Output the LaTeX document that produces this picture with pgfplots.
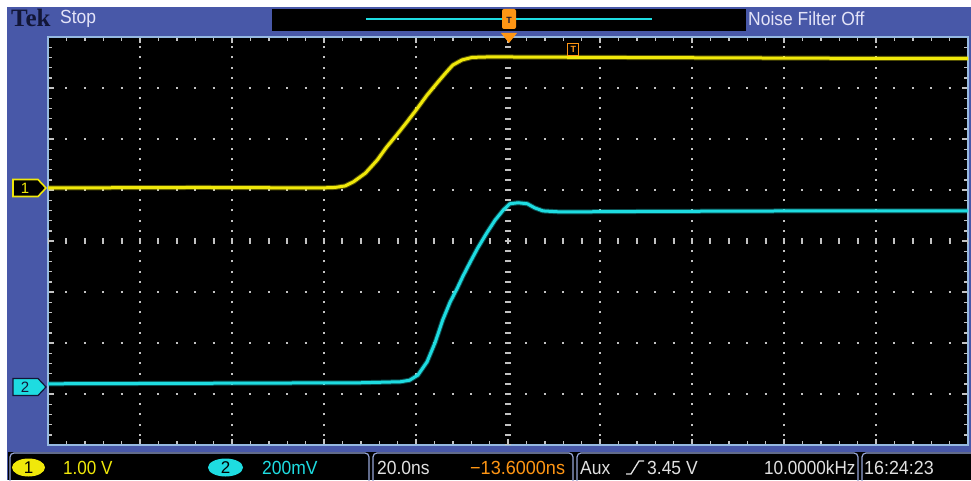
\documentclass[border=0pt]{standalone}
\usepackage{pgfplots}
\pgfplotsset{compat=1.18}
\usepackage{fontspec}
\setmainfont{Liberation Sans}
\newfontfamily\tekfont{Liberation Serif}
\definecolor{tekblue}{RGB}{72,88,168}
\definecolor{tekdark}{RGB}{18,22,55}
\definecolor{stoptxt}{RGB}{228,228,248}
\definecolor{yellowtr}{RGB}{240,232,10}
\definecolor{cyantr}{RGB}{30,220,225}
\definecolor{trigorange}{RGB}{255,150,20}
\definecolor{barline}{RGB}{150,165,215}
\definecolor{bordercol}{RGB}{150,185,225}
\definecolor{gridcol}{RGB}{195,195,195}
\definecolor{txtgray}{RGB}{225,225,225}
\begin{document}
\begin{tikzpicture}[x=1pt,y=1pt]
\useasboundingbox (0,0) rectangle (971,480);
\clip (0,0) rectangle (971,480);
\fill[white] (0,0) rectangle (971,480);
\fill[tekblue] (7,0) rectangle (971,473);
% ---- top bar
\node[anchor=west, inner sep=0, text=tekdark, font=\tekfont\bfseries\fontsize{25}{25}\selectfont] at (11,462) {Tek};
\node[anchor=west, inner sep=0, text=stoptxt, font=\fontsize{19}{19}\selectfont, xscale=0.92] at (60,461) {Stop};
\fill[black] (272,449) rectangle (746,471);
\draw[cyantr, line width=2.5pt] (366,461) -- (652,461);
\fill[trigorange, rounded corners=2pt] (502,451) rectangle (516,471);
\node[inner sep=0, text=tekdark, font=\bfseries\fontsize{9}{9}\selectfont] at (509,460) {T};
\node[anchor=west, inner sep=0, text=stoptxt, font=\fontsize{19}{19}\selectfont, xscale=0.92] at (748,461) {Noise Filter Off};
% ---- bottom bar
\fill[black] (8,0) rectangle (971,28);
\draw[barline, line width=1.2pt, rounded corners=4pt] (10,-3) -- (10,27) -- (369,27) -- (369,-3);
\draw[barline, line width=1.2pt, rounded corners=4pt] (373,-3) -- (373,27) -- (573,27) -- (573,-3);
\draw[barline, line width=1.2pt, rounded corners=4pt] (577,-3) -- (577,27) -- (858,27) -- (858,-3);
\draw[barline, line width=1.2pt, rounded corners=4pt] (862,-3) -- (862,27) -- (975,27);
\fill[yellowtr] (28.5,12.5) ellipse [x radius=16.5, y radius=9];
\node[inner sep=0, text=black, font=\fontsize{17}{17}\selectfont] at (28.5,12) {1};
\node[anchor=west, inner sep=0, text=yellowtr, font=\fontsize{19}{19}\selectfont, xscale=0.9] at (63,12) {1.00 V};
\fill[cyantr] (225.5,12.5) ellipse [x radius=17.5, y radius=9];
\node[inner sep=0, text=black, font=\fontsize{17}{17}\selectfont] at (225.5,12) {2};
\node[anchor=west, inner sep=0, text=cyantr, font=\fontsize{19}{19}\selectfont, xscale=0.92] at (262,12) {200mV};
\node[anchor=west, inner sep=0, text=txtgray, font=\fontsize{19}{19}\selectfont, xscale=0.92] at (377,12) {20.0ns};
\node[anchor=west, inner sep=0, text=trigorange, font=\fontsize{19}{19}\selectfont, xscale=0.95] at (470,12) {−13.6000ns};
\node[anchor=west, inner sep=0, text=txtgray, font=\fontsize{19}{19}\selectfont, xscale=0.92] at (580,12) {Aux};
\draw[txtgray, line width=1.3pt] (626,6) -- (631,6) -- (639,19) -- (644,19);
\node[anchor=west, inner sep=0, text=txtgray, font=\fontsize{19}{19}\selectfont, xscale=0.92] at (647,12) {3.45 V};
\node[anchor=west, inner sep=0, text=txtgray, font=\fontsize{19}{19}\selectfont, xscale=0.9] at (764,12) {10.0000kHz};
\node[anchor=west, inner sep=0, text=txtgray, font=\fontsize{19}{19}\selectfont, xscale=0.94] at (864,12) {16:24:23};
% ---- scope screen
\begin{axis}[
  at={(48pt,35pt)}, anchor=south west,
  scale only axis, width=920pt, height=408pt,
  xmin=-5, xmax=5, ymin=-4, ymax=4,
  axis background/.style={fill=black},
  axis line style={draw=bordercol, line width=1.6pt},
  xtick={-5,...,5}, ytick={-4,...,4},
  xticklabels={}, yticklabels={},
  minor x tick num=4, minor y tick num=4,
  tick align=inside,
  major tick length=6pt, minor tick length=4pt,
  every tick/.style={gridcol, line width=1.4pt},
  grid=major,
  x grid style={gridcol, line width=2pt, dash pattern=on 2pt off 8.2pt, dash phase=1pt},
  y grid style={gridcol, line width=2pt, dash pattern=on 2pt off 16.4pt, dash phase=1pt},
  clip=true,
]
\draw[gridcol, line width=6pt, dash pattern=on 2pt off 8.2pt, dash phase=1pt] (axis cs:0,-4) -- (axis cs:0,4);
\draw[gridcol, line width=6pt, dash pattern=on 2pt off 16.4pt, dash phase=1pt] (axis cs:-5,0) -- (axis cs:5,0);
% channel 1 (yellow)
\addplot[yellowtr, line width=5pt, opacity=0.35] coordinates {
(-5,1.04) (-3.35,1.05) (-2.04,1.04) (-1.88,1.05) (-1.77,1.08) (-1.68,1.16) (-1.55,1.33) (-1.42,1.59) (-1.32,1.84) (-1.21,2.08) (-1.10,2.33) (-0.99,2.59) (-0.88,2.86) (-0.77,3.10) (-0.68,3.29) (-0.60,3.45) (-0.50,3.55) (-0.39,3.60) (-0.20,3.61) (1.0,3.60) (2.5,3.59) (4.0,3.58) (5,3.58)};
\addplot[yellowtr, line width=3pt] coordinates {
(-5,1.04) (-3.35,1.05) (-2.04,1.04) (-1.88,1.05) (-1.77,1.08) (-1.68,1.16) (-1.55,1.33) (-1.42,1.59) (-1.32,1.84) (-1.21,2.08) (-1.10,2.33) (-0.99,2.59) (-0.88,2.86) (-0.77,3.10) (-0.68,3.29) (-0.60,3.45) (-0.50,3.55) (-0.39,3.60) (-0.20,3.61) (1.0,3.60) (2.5,3.59) (4.0,3.58) (5,3.58)};
% channel 2 (cyan)
\addplot[cyantr, line width=5pt, opacity=0.35] coordinates {
(-5,-2.80) (-3.35,-2.79) (-1.61,-2.78) (-1.17,-2.76) (-1.07,-2.73) (-0.98,-2.63) (-0.88,-2.37) (-0.79,-1.98) (-0.71,-1.55) (-0.63,-1.20) (-0.55,-0.92) (-0.49,-0.69) (-0.41,-0.41) (-0.33,-0.14) (-0.23,0.16) (-0.14,0.41) (-0.05,0.61) (0.02,0.73) (0.11,0.75) (0.21,0.73) (0.29,0.65) (0.38,0.59) (0.57,0.57) (1.54,0.58) (3.17,0.59) (5,0.59)};
\addplot[cyantr, line width=3pt] coordinates {
(-5,-2.80) (-3.35,-2.79) (-1.61,-2.78) (-1.17,-2.76) (-1.07,-2.73) (-0.98,-2.63) (-0.88,-2.37) (-0.79,-1.98) (-0.71,-1.55) (-0.63,-1.20) (-0.55,-0.92) (-0.49,-0.69) (-0.41,-0.41) (-0.33,-0.14) (-0.23,0.16) (-0.14,0.41) (-0.05,0.61) (0.02,0.73) (0.11,0.75) (0.21,0.73) (0.29,0.65) (0.38,0.59) (0.57,0.57) (1.54,0.58) (3.17,0.59) (5,0.59)};
\node[draw=trigorange, fill=black, line width=1.2pt, text=trigorange, inner sep=1pt, minimum width=11pt, minimum height=12pt, font=\bfseries\fontsize{9}{9}\selectfont] at (axis cs:0.71,3.76) {T};
\end{axis}
% trigger position marker and channel markers
\fill[trigorange] (501,447) -- (517,447) -- (509,437) -- cycle;
\draw[yellowtr, fill=black, line width=1.6pt] (13,283.5) -- (38,283.5) -- (46,292) -- (38,300.5) -- (13,300.5) -- cycle;
\node[inner sep=0, text=yellowtr, font=\fontsize{15}{15}\selectfont] at (25,292) {1};
\draw[tekdark, fill=cyantr, line width=1.2pt] (13,84.5) -- (38,84.5) -- (46,93) -- (38,101.5) -- (13,101.5) -- cycle;
\node[inner sep=0, text=tekdark, font=\fontsize{15}{15}\selectfont] at (25,93) {2};
\end{tikzpicture}
\end{document}
